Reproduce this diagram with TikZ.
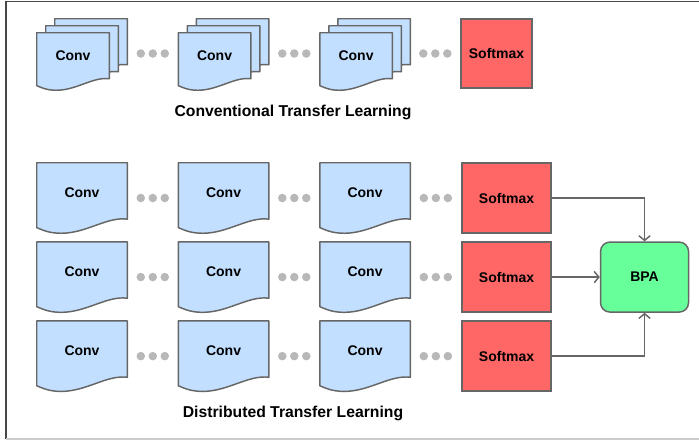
\documentclass[tikz,border=0pt]{standalone}
\usepackage{fontspec}
\setmainfont{Liberation Sans}
\usetikzlibrary{arrows.meta,positioning,calc,backgrounds}

\definecolor{convblue}{HTML}{C2DFFF}
\definecolor{softred}{HTML}{FF6666}
\definecolor{bpagreen}{HTML}{66FF99}
\definecolor{edgegray}{HTML}{666666}
\definecolor{dotgray}{HTML}{B8B8B8}

% document outline with a wavy bottom edge, drawn around a node
\newcommand{\docoutline}[1]{%
  \path[docline] let \p1=(#1.south west), \p2=(#1.north east),
    \n1={\x2-\x1}, \n2={\y2-\y1} in
    (\x1,{\y1+0.08*\n2}) -- (\x1,\y2) -- (\x2,\y2) -- (\x2,{\y1+0.2*\n2})
    .. controls ({\x1+0.78*\n1},{\y1+0.24*\n2}) and ({\x1+0.55*\n1},\y1) .. ({\x1+0.27*\n1},\y1)
    .. controls ({\x1+0.13*\n1},\y1) and ({\x1+0.06*\n1},{\y1+0.05*\n2}) .. (\x1,{\y1+0.08*\n2}) -- cycle;%
}

\begin{document}
\begin{tikzpicture}[
    x=0.75pt, y=-0.75pt,
    node distance=38.25pt,
    lbl/.style={font=\fontsize{10.5}{12}\selectfont\bfseries},
    doc/.style={rectangle, inner sep=0pt, minimum width=67.5pt, minimum height=52.5pt, text height=7.6pt, text depth=9pt, lbl},
    sheet/.style={doc, minimum width=54pt, minimum height=42.75pt},
    docline/.style={draw=edgegray, fill=convblue, line width=1.1pt, line join=round},
    soft/.style={rectangle, draw=edgegray, fill=softred, line width=1.1pt, minimum width=66.75pt, minimum height=52.5pt, lbl},
    bpa/.style={rectangle, rounded corners=7pt, draw=edgegray, fill=bpagreen, line width=1.1pt, minimum width=66pt, minimum height=52.5pt, lbl},
    arrow/.style={-{Straight Barb[length=3.5pt,width=8.5pt]}, draw=edgegray, line width=1.1pt},
    dot/.style={fill=dotgray},
    caption/.style={font=\fontsize{11.8}{14}\selectfont\bfseries}
  ]
  \useasboundingbox (0,0) rectangle (699,440);

  % frame
  \draw[edgegray!70!black, line width=1.2pt] (6,439) -- (6,1.5) -- (699,1.5);
  \draw[black!20, line width=1pt] (6,439) -- (699,439);

  % Conventional: stacked conv layers
  \node[sheet] (stack1) at (73,61.5) {Conv};
  \node[sheet, right=51.75pt of stack1] (stack2) {Conv};
  \node[sheet, right=51.75pt of stack2] (stack3) {Conv};
  \node[sheet] (stack1b) at ($(stack1)+(9,-7)$) {};
  \node[sheet] (stack1c) at ($(stack1)+(18,-14)$) {};
  \node[sheet] (stack2b) at ($(stack2)+(9,-7)$) {};
  \node[sheet] (stack2c) at ($(stack2)+(18,-14)$) {};
  \node[sheet] (stack3b) at ($(stack3)+(9,-7)$) {};
  \node[sheet] (stack3c) at ($(stack3)+(18,-14)$) {};
  \node[soft, minimum width=53.25pt, minimum height=51.75pt] (tsoft) at (496.5,53.5) {Softmax};
  \node[caption] (ctitle) at (293,112) {Conventional Transfer Learning};

  % Distributed: three parallel branches
  \node[doc] (conv11) at (82,198) {Conv};
  \node[doc, right=of conv11] (conv12) {Conv};
  \node[doc, right=of conv12] (conv13) {Conv};
  \node[soft, right=of conv13] (soft1) {Softmax};

  \node[doc, below=6.4pt of conv11] (conv21) {Conv};
  \node[doc, right=of conv21] (conv22) {Conv};
  \node[doc, right=of conv22] (conv23) {Conv};
  \node[soft, right=of conv23] (soft2) {Softmax};

  \node[doc, below=6.4pt of conv21] (conv31) {Conv};
  \node[doc, right=of conv31] (conv32) {Conv};
  \node[doc, right=of conv32] (conv33) {Conv};
  \node[soft, right=of conv33] (soft3) {Softmax};

  \node[bpa, right=36pt of soft2] (bpa) {BPA};
  \node[caption] (dtitle) at (293,413) {Distributed Transfer Learning};

  % document shapes behind the labels
  \begin{scope}[on background layer]
    \foreach \d in {stack1c,stack1b,stack1,stack2c,stack2b,stack2,stack3c,stack3b,stack3,
                    conv11,conv12,conv13,conv21,conv22,conv23,conv31,conv32,conv33}
      \docoutline{\d};
  \end{scope}

  % dots between layers
  \foreach \a/\b in {stack1c/stack2, stack2c/stack3, stack3c/tsoft} {
    \coordinate (mid) at ($(\a.east)!0.5!(\b.west)$);
    \foreach \dx in {-12,0,12}
      \fill[dot] (mid |- tsoft) ++(\dx,0) circle (3.2pt);
  }
  \foreach \a/\b in {conv11/conv12, conv12/conv13, conv13/soft1,
                     conv21/conv22, conv22/conv23, conv23/soft2,
                     conv31/conv32, conv32/conv33, conv33/soft3} {
    \coordinate (mid) at ($(\a.east)!0.5!(\b.west)$);
    \foreach \dx in {-12,0,12}
      \fill[dot] (mid) ++(\dx,0) circle (3.2pt);
  }

  % Arrows
  \draw[arrow] (soft1) -| (bpa);
  \draw[arrow] (soft2) -- (bpa);
  \draw[arrow] (soft3) -| (bpa);
\end{tikzpicture}
\end{document}
